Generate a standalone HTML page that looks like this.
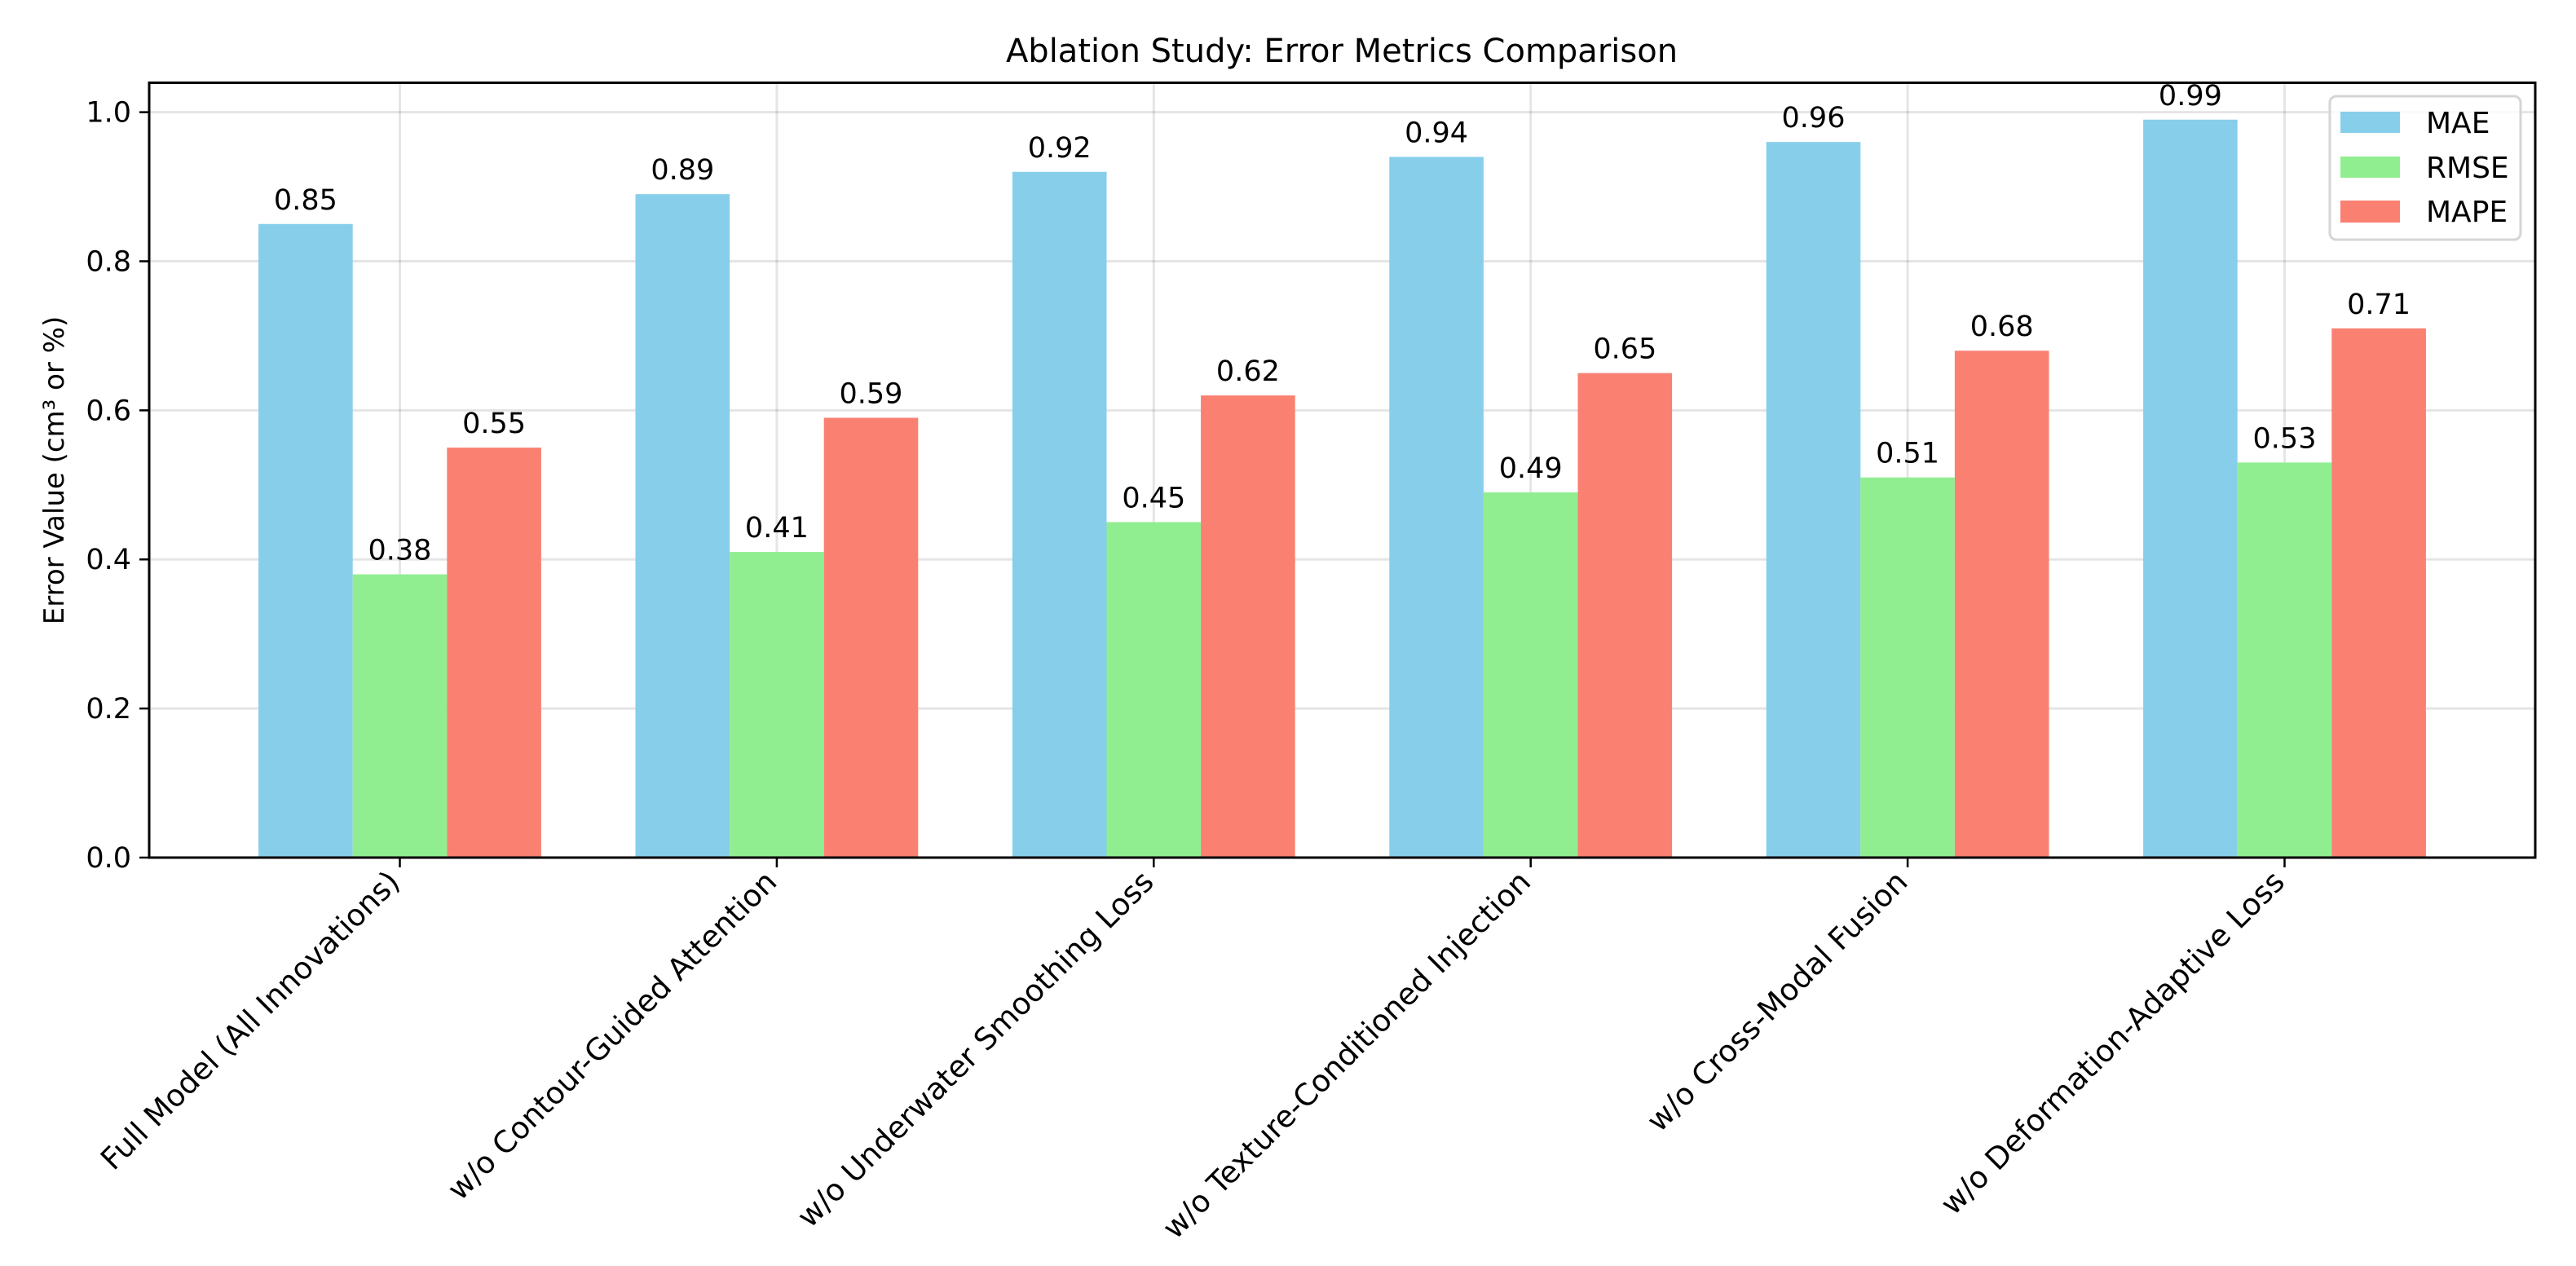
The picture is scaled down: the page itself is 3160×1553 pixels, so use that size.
<!DOCTYPE html>
<html><head><meta charset="utf-8"><style>
html,body{margin:0;padding:0;background:#fff;}
svg{display:block;font-family:"DejaVu Sans","Liberation Sans",sans-serif;}
</style></head><body>
<svg id="chart" width="3160" height="1553" viewBox="0 0 3160 1553" xmlns="http://www.w3.org/2000/svg">
<text x="1646" y="76" font-size="40" text-anchor="middle">Ablation Study: Error Metrics Comparison</text>
<text transform="translate(78,577) rotate(-90)" font-size="34" text-anchor="middle">Error Value (cm³ or %)</text>
<g id="grid"></g><g id="bars"></g><g id="labels"></g><g id="ticks"></g>
<rect x="183" y="101.5" width="2927" height="950.5" fill="none" stroke="#000" stroke-width="3"/>
<g>
<rect x="2858" y="118" width="234" height="176" rx="8" fill="#fff" fill-opacity="0.8" stroke="#d5d5d5" stroke-width="3"/>
<rect x="2871" y="137" width="73" height="26" fill="#87CEEB"/>
<text x="2976" y="163" font-size="36">MAE</text>
<rect x="2871" y="192" width="73" height="26" fill="#90EE90"/>
<text x="2976" y="218" font-size="36">RMSE</text>
<rect x="2871" y="246" width="73" height="27" fill="#FA8072"/>
<text x="2976" y="272" font-size="36">MAPE</text>
</g>
</svg>
<script>
const categories = ["Full Model (All Innovations)","w/o Contour-Guided Attention","w/o Underwater Smoothing Loss","w/o Texture-Conditioned Injection","w/o Cross-Modal Fusion","w/o Deformation-Adaptive Loss"];
const maeValues = [0.85,0.89,0.92,0.94,0.96,0.99];
const rmseValues = [0.38,0.41,0.45,0.49,0.51,0.53];
const mapeValues = [0.55,0.59,0.62,0.65,0.68,0.71];
const yTicks = [0.0,0.2,0.4,0.6,0.8,1.0];
const seriesNames = ["mae","rmse","mape"];
const seriesColors = ["#87CEEB","#90EE90","#FA8072"];

const NS="http://www.w3.org/2000/svg";
const L=183,R=3110,T=101.5,B=1052;
const xMin=-0.665,xMax=categories.length-1+0.665;
const yMax=Math.max(...maeValues,...rmseValues,...mapeValues)*1.05;
const xs=v=>L+(v-xMin)/(xMax-xMin)*(R-L);
const ys=v=>B-v/yMax*(B-T);
function mk(tag,attrs,parent){const e=document.createElementNS(NS,tag);for(const k in attrs)e.setAttribute(k,attrs[k]);document.getElementById(parent).appendChild(e);return e;}
yTicks.forEach((t,i)=>{
  const g=mk('line',{x1:L,x2:R,y1:ys(t),y2:ys(t),stroke:'#000','stroke-opacity':0.1,'stroke-width':3},'grid');
  
  
  const tk=mk('line',{x1:L-12,x2:L,y1:ys(t),y2:ys(t),stroke:'#000','stroke-width':2.5},'ticks');
  
  
  const tl=mk('text',{x:L-22,y:ys(t)+12,'font-size':35,'text-anchor':'end'},'ticks');
  tl.textContent=t.toFixed(1);
  
  
});
const all=[maeValues,rmseValues,mapeValues];
const w=0.25;
categories.forEach((c,i)=>{
  const g=mk('line',{x1:xs(i),x2:xs(i),y1:T,y2:B,stroke:'#000','stroke-opacity':0.1,'stroke-width':3},'grid');
  
  
  all.forEach((vals,s)=>{
    const cx=i+(s-1)*w;
    const v=vals[i];
    const r=mk('rect',{x:xs(cx-w/2),y:ys(v),width:xs(cx+w/2)-xs(cx-w/2),height:B-ys(v),fill:seriesColors[s]},'bars');
    
    
    const t=mk('text',{x:xs(cx),y:ys(v)-18,'font-size':35,'text-anchor':'middle'},'labels');
    t.textContent=v.toFixed(2);
    
    
  });
  const tk=mk('line',{x1:xs(i),x2:xs(i),y1:B,y2:B+12,stroke:'#000','stroke-width':2.5},'ticks');
  
  
  const tl=mk('text',{transform:`translate(${xs(i)+2},${B+32}) rotate(-45)`,'font-size':37,'text-anchor':'end'},'ticks');
  tl.textContent=c;
  
  
});
</script>
</body></html>
